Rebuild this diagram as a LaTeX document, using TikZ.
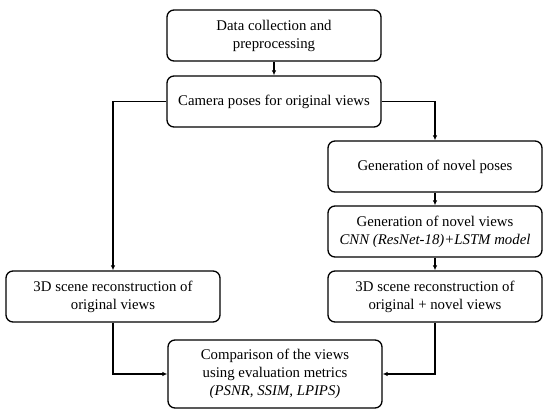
\documentclass[tikz,border=0pt]{standalone}
\usepackage{fontspec}
\setmainfont{Liberation Serif}
\usetikzlibrary{arrows.meta}
\begin{document}
\begin{tikzpicture}[x=1pt,y=-1pt,
  box/.style={draw, line width=1.3pt, rounded corners=7pt, minimum width=214pt, minimum height=51pt, align=center, font=\fontsize{14.8}{18}\selectfont, inner sep=0pt},
  conn/.style={line width=1.1pt, -{Latex[length=5pt,width=4.5pt]}}]
\useasboundingbox (0,0) rectangle (550,409);
\node[box] (b1) at (274,35.5) {Data collection and\\preprocessing};
\node[box] (b2) at (274,101.5) {Camera poses for original views};
\node[box] (b3) at (435,166.5) {Generation of novel poses};
\node[box] (b4) at (435,231.5) {Generation of novel views\\\textit{CNN (ResNet-18)+LSTM model}};
\node[box] (b5) at (435,296.5) {3D scene reconstruction of\\original + novel views};
\node[box] (lf) at (113,296.5) {3D scene reconstruction of\\original views};
\node[box, minimum height=68pt] (bt) at (275,374) {Comparison of the views\\using evaluation metrics\\\textit{(PSNR, SSIM, LPIPS)}};
\draw[conn] (b1) -- (b2);
\draw[conn] (b2.west) -| (lf.north);
\draw[conn] (b2.east) -| (b3.north);
\draw[conn] (b3) -- (b4);
\draw[conn] (b4) -- (b5);
\draw[conn] (lf.south) |- (bt.west);
\draw[conn] (b5.south) |- (bt.east);
\end{tikzpicture}
\end{document}
